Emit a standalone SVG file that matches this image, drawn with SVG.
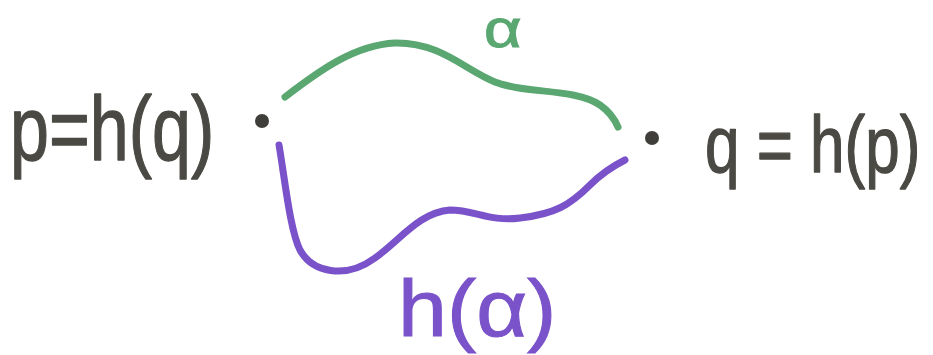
<svg xmlns="http://www.w3.org/2000/svg" width="933" height="355" viewBox="0 0 933 355">
<style>
.lbl{font-family:"Liberation Sans","DejaVu Sans",sans-serif;fill:#4a4943;stroke:#4a4943;stroke-width:1;stroke-linejoin:round}
.dot{fill:#3f3e3a}
.curve{fill:none;stroke-width:7;stroke-linecap:round;stroke-linejoin:round}
.g{stroke:#5aa771}
.v{stroke:#7a52c9}
.gt{font-family:"Liberation Sans","DejaVu Sans",sans-serif;fill:#5aa771;stroke:#5aa771;stroke-width:1}
.vt{font-family:"Liberation Sans","DejaVu Sans",sans-serif;fill:#7a52c9;stroke:#7a52c9;stroke-width:1}
</style>
<rect width="933" height="355" fill="#ffffff"/>
<g id="node-p">
<circle class="dot" cx="262" cy="121" r="7"/>
<text class="lbl" font-size="70" transform="translate(10,160) scale(1,1.3)">p=h(q)</text>
</g>
<g id="node-q">
<circle class="dot" cx="652" cy="138" r="7"/>
<text class="lbl" font-size="62" transform="translate(705,172) scale(1,1.3)">q = h(p)</text>
</g>
<g id="connectors">
<g id="edge-alpha">
<path class="curve g" d="M285,97 C320,70 355,45 395,43 C440,42 465,70 495,82 C525,94 575,88 600,105 C610,112 615,120 618,127"/>
<text class="gt" font-size="52" transform="translate(484,47) scale(1.25,1)">α</text>
</g>
<g id="edge-h-alpha">
<path class="curve v" d="M279,145 C285,180 290,230 300,250 C312,272 345,280 375,258 C400,240 420,212 450,210 C475,210 490,222 520,218 C555,214 570,205 590,185 C602,173 615,165 625,160"/>
<text class="vt" font-size="80" transform="translate(398,336) scale(1.1,1)">h(α)</text>
</g>
</g>
</svg>
